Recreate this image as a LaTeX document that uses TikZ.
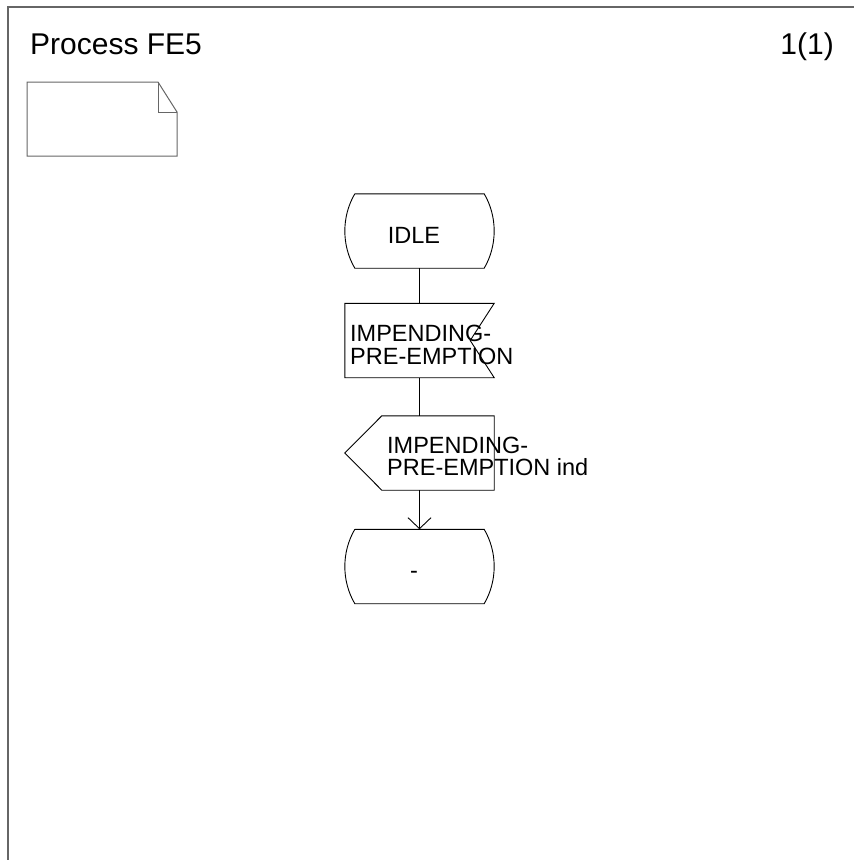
\documentclass[tikz,border=0pt]{standalone}
\usepackage{fontspec}
\setmainfont{Liberation Sans}
\usetikzlibrary{arrows.meta}

\tikzset{
    cadre/.style={draw=black!60, line width=1.2pt},
    trait/.style={draw=black, line width=0.9pt},
    forme/.style={minimum width=149pt, minimum height=74pt, inner sep=0pt},
    texte/.style={inner sep=0pt, align=left, font=\fontsize{23.5}{22.5}\selectfont},
    titre/.style={inner sep=0pt, font=\fontsize{30}{30}\selectfont}
}

\begin{document}
\begin{tikzpicture}[x=1pt, y=-1pt]
                \useasboundingbox (0,0) rectangle (854,860);
                % Cadre
                \draw[cadre] (8,860) -- (8,7) -- (854,7);
                \node[titre, anchor=base west] (titre) at (30,54) {Process FE5};
                \node[titre, anchor=base east] (page) at (834,54) {1(1)};
                
                % Note (vide)
                \draw[cadre, line width=1pt] (27,82) -- (158,82) -- (177,112) -- (177,156) -- (27,156) -- cycle;
                \draw[cadre, line width=1pt] (158,82) -- (158,112) -- (177,112);
                
                % Formes
                \node[forme] (idle) at (419.5,231) {};
                \node[forme] (entree) at (419.5,340.5) {};
                \node[forme] (sortie) at (419.5,453) {};
                \node[forme] (tiret) at (419.5,566.5) {};
                
                % Etats
                \foreach \n in {idle, tiret} {
                    \draw[trait] ([xshift=10pt]\n.north west) -- ([xshift=-10pt]\n.north east)
                        .. controls +(13.3,22.8) and +(13.3,-22.8) .. ([xshift=-10pt]\n.south east)
                        -- ([xshift=10pt]\n.south west)
                        .. controls +(-13.3,-22.8) and +(-13.3,22.8) .. ([xshift=10pt]\n.north west);
                }
                \node[texte, anchor=base] (idletxt) at (414,243) {IDLE};
                \node[texte, anchor=base] (tirettxt) at (414,578) {-};
                
                % Signal recu
                \draw[trait] (entree.north west) -- (entree.north east) -- ([xshift=-24pt]entree.east)
                    -- (entree.south east) -- (entree.south west) -- cycle;
                \node[texte, anchor=north west] (entreetxt) at (350,325) {IMPENDING-\\PRE-EMPTION};
                
                % Signal emis
                \draw[trait] ([xshift=37pt]sortie.north west) -- (sortie.north east) -- (sortie.south east)
                    -- ([xshift=37pt]sortie.south west) -- (sortie.west) -- cycle;
                \node[texte, anchor=north west] (sortietxt) at (387,436.5) {IMPENDING-\\PRE-EMPTION ind};
                
                % Liaisons
                \draw[trait] (idle) -- (entree);
                \draw[trait] (entree) -- (sortie);
                \draw[trait, -{Straight Barb[length=11pt, width=23pt]}] (sortie) -- (tiret);
            \end{tikzpicture}
\end{document}
